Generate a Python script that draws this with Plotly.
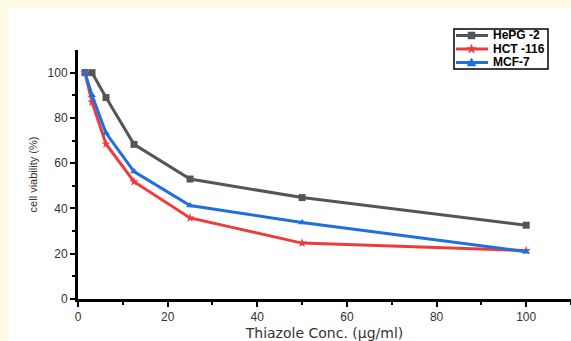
import math
import plotly.graph_objects as go

conc = [1.56, 3.125, 6.25, 12.5, 25, 50, 100]
hepg2 = [100, 100, 89, 68.3, 53, 44.8, 32.6]
hct116 = [100, 87, 68.5, 51.8, 35.8, 24.7, 21.4]
mcf7 = [100, 90, 73.3, 56.3, 41.3, 33.8, 20.9]
names = ["HePG -2", "HCT -116", "MCF-7"]
colors = ["#555555", "#ef3b3b", "#1f6fe0"]
symbols = ["square", "star", "triangle-up"]

W, H = 571, 341
L, R, T, B = 78, 0, 50, 42
pw, ph = W - L - R, H - T - B


def px(x):
    return (x - L) / pw


def py(y):
    return (H - B - y) / ph


fig = go.Figure()
for name, vals, col, sym in zip(names, [hepg2, hct116, mcf7], colors, symbols):
    fig.add_trace(go.Scatter(
        x=conc, y=vals, mode="lines+markers", name=name, showlegend=False,
        line=dict(color=col, width=3),
        marker=dict(symbol=sym, size=7, color=col),
    ))

shapes = []
# white panel on cream page
shapes.append(dict(type="rect", xref="paper", yref="paper",
                   x0=px(9), x1=px(W + 5), y0=py(H + 5), y1=py(8),
                   fillcolor="white", line=dict(width=0), layer="below"))
# manual compact legend
shapes.append(dict(type="rect", xref="paper", yref="paper",
                   x0=px(454), x1=px(548), y0=py(69), y1=py(29),
                   fillcolor="white", line=dict(color="black", width=1.5), layer="above"))
annotations = []
rows = [35.5, 49, 62.5]
for name, col, sym, ry in zip(names, colors, symbols, rows):
    shapes.append(dict(type="line", xref="paper", yref="paper",
                       x0=px(456), x1=px(488), y0=py(ry), y1=py(ry),
                       line=dict(color=col, width=3)))
    cx = 471.5
    if sym == "square":
        pts = [(cx - 3.5, ry - 3.5), (cx + 3.5, ry - 3.5), (cx + 3.5, ry + 3.5), (cx - 3.5, ry + 3.5)]
    elif sym == "triangle-up":
        pts = [(cx, ry - 4.5), (cx + 4.5, ry + 3.5), (cx - 4.5, ry + 3.5)]
    else:
        pts = []
        for k in range(10):
            r = 4.8 if k % 2 == 0 else 2.0
            a = -math.pi / 2 + k * math.pi / 5
            pts.append((cx + r * math.cos(a), ry + r * math.sin(a)))
    path = "M " + " L ".join(f"{px(a):.5f},{py(b):.5f}" for a, b in pts) + " Z"
    shapes.append(dict(type="path", xref="paper", yref="paper", path=path,
                       fillcolor=col, line=dict(color=col, width=0.5)))
    annotations.append(dict(xref="paper", yref="paper", x=px(491), y=py(ry),
                            xanchor="left", yanchor="middle", showarrow=False,
                            text=f"<b>{name}</b>",
                            font=dict(size=12, color="black", family="Arial, Liberation Sans")))

fig.update_layout(
    width=W, height=H,
    margin=dict(l=L, r=R, t=T, b=B),
    paper_bgcolor="#fffbe6", plot_bgcolor="white",
    font=dict(family="Arial, Liberation Sans, sans-serif", color="#333"),
    shapes=shapes, annotations=annotations,
    xaxis=dict(range=[0, 110], tickvals=[0, 20, 40, 60, 80, 100],
               showgrid=False, zeroline=False, showline=True, linecolor="black", linewidth=3,
               ticks="outside", ticklen=5, tickwidth=2, tickcolor="black",
               minor=dict(tickvals=[10, 30, 50, 70, 90, 110], ticks="outside", ticklen=3, tickwidth=1.5, tickcolor="black"),
               tickfont=dict(size=12, color="#333"),
               title=dict(text="Thiazole Conc. (µg/ml)", font=dict(size=14, color="#333", family="DejaVu Sans"), standoff=5)),
    yaxis=dict(range=[0, 110], tickvals=[0, 20, 40, 60, 80, 100],
               showgrid=False, zeroline=False, showline=True, linecolor="black", linewidth=3,
               ticks="outside", ticklen=5, tickwidth=2, tickcolor="black",
               minor=dict(tickvals=[10, 30, 50, 70, 90], ticks="outside", ticklen=3, tickwidth=1.5, tickcolor="black"),
               tickfont=dict(size=12, color="#333"),
               title=dict(text="cell viability (%)", font=dict(size=11, color="#333"), standoff=8)),
)
fig.write_html("out.html")
